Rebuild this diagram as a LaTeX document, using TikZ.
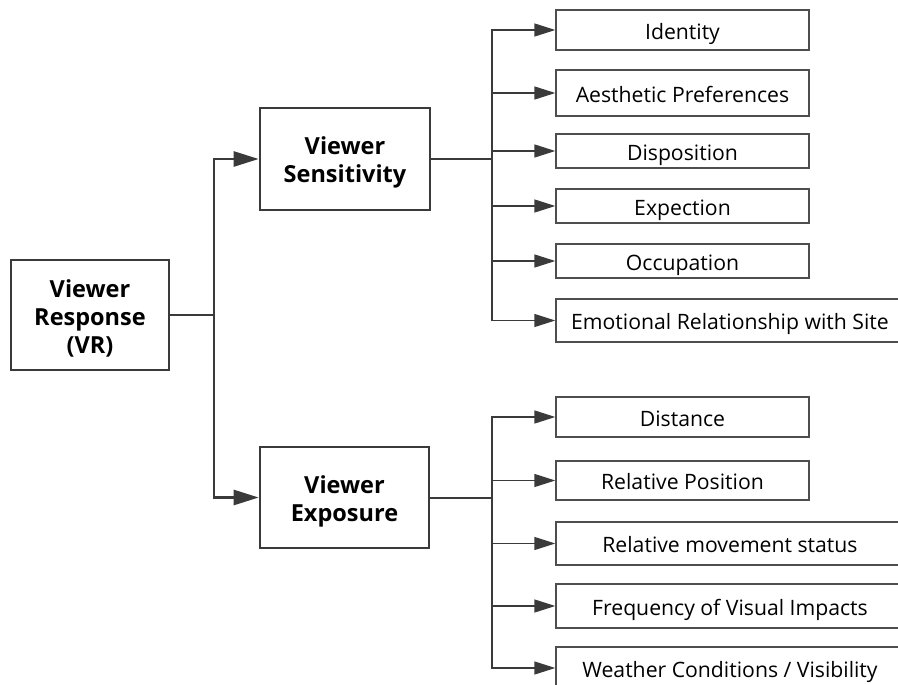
\documentclass[tikz,border=0pt]{standalone}
\usepackage{fontspec}
\setmainfont{Open Sans}
\usetikzlibrary{arrows.meta}
\definecolor{ink}{HTML}{3A3A3A}
\tikzset{
  every node/.style={inner sep=0pt},
  topbox/.style={draw=ink, line width=2.6pt, fill=white},
  toptext/.style={align=center, font=\fontsize{23.5}{28}\selectfont\bfseries},
  leafbox/.style={draw=ink!90, line width=1.4pt, fill=white, font=\fontsize{21.2}{25}\selectfont,
    minimum width=253pt, text height=19pt, text depth=0.6pt},
  wideleaf/.style={leafbox, minimum width=348pt},
  trunk/.style={draw=ink, line width=2.6pt},
  twig/.style={draw=ink, line width=1.4pt},
  bigtip/.style={-{Triangle[length=25pt,width=15pt]}},
  smalltip/.style={-{Triangle[length=21pt,width=13pt]}},
}
\begin{document}
\begin{tikzpicture}[x=1pt,y=-1pt]
\useasboundingbox (0,0) rectangle (898,685);
\clip (0,0) rectangle (898,685);

% level 0 and level 1 boxes
\node[topbox, minimum width=158pt, minimum height=110pt] (vr) at (90,315) {};
\node[toptext] (vr-t) at ([yshift=-3pt]vr.center) {Viewer\\Response\\(VR)};
\node[topbox, minimum width=170pt, minimum height=102pt] (vs) at (345,159) {};
\node[toptext] (vs-t) at ([yshift=-3.5pt]vs.center) {Viewer\\Sensitivity};
\node[topbox, minimum width=169pt, minimum height=101pt] (ve) at (344.5,497.5) {};
\node[toptext] (ve-t) at ([yshift=-3.5pt]ve.center) {Viewer\\Exposure};

% sensitivity leaves
\node[leafbox, minimum height=40pt] (s1) at (682.5,30)  {Identity};
\node[leafbox, minimum height=46pt] (s2) at (682.5,93)  {Aesthetic Preferences};
\node[leafbox, minimum height=34pt] (s3) at (682.5,151) {Disposition};
\node[leafbox, minimum height=34pt] (s4) at (682.5,206) {Expection};
\node[leafbox, minimum height=34pt] (s5) at (682.5,261) {Occupation};
\node[wideleaf, minimum height=43pt] (s6) at (730,320.5) {Emotional Relationship with Site};

% exposure leaves
\node[leafbox, minimum height=40pt] (e1) at (682.5,417)   {Distance};
\node[leafbox, minimum height=39pt] (e2) at (682.5,480.5) {Relative Position};
\node[wideleaf, minimum height=43pt] (e3) at (730,543.5) {Relative movement status};
\node[wideleaf, minimum height=44pt] (e4) at (730,606)   {Frequency of Visual Impacts};
\node[wideleaf, minimum height=42pt] (e5) at (730,668) {Weather Conditions / Visibility};

% junction points
\coordinate (j0) at (214,315);
\coordinate (js) at (492,159);
\coordinate (je) at (492,497.5);

% root to level 1
\draw[trunk] (vr.east) -- (j0);
\draw[trunk, bigtip] (j0) |- (vs.west);
\draw[trunk, bigtip] (j0) |- (ve.west);

% level 1 to leaves
\draw[trunk, line width=2pt] (vs.east) -- (js);
\draw[trunk, line width=2pt] (ve.east) -- (je);
\foreach \n in {s1,s2,s3,s4,s5,s6}
  \draw[twig, smalltip] (js) |- (\n.west);
\foreach \n in {e1,e2,e3,e4,e5}
  \draw[twig, smalltip] (je) |- (\n.west);
\end{tikzpicture}
\end{document}
